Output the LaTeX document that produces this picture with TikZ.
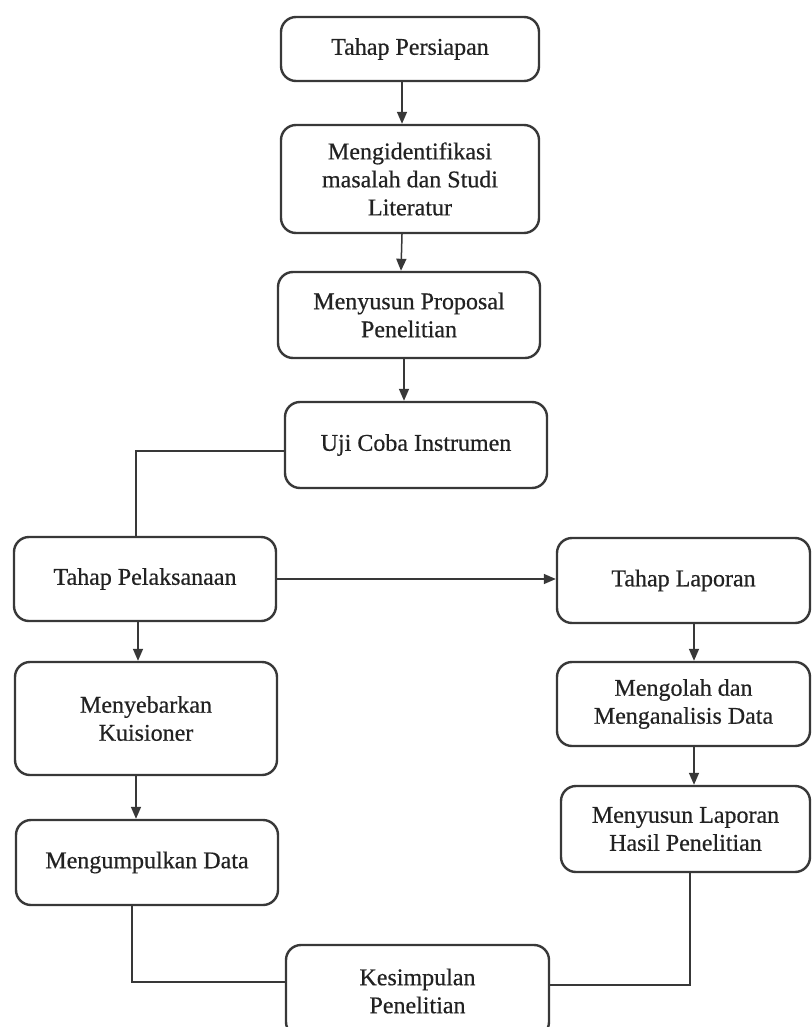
\documentclass[tikz,border=0pt]{standalone}
\usepackage{fontspec}
\setmainfont{Liberation Serif}
\newfontfamily\boxfont[FakeBold=0.5]{Liberation Serif}
\usetikzlibrary{arrows.meta}
\definecolor{ink}{HTML}{222222}
\definecolor{edge}{HTML}{383838}
\begin{document}
\begin{tikzpicture}[x=1pt,y=-1pt,
  box/.style={draw=edge, line width=2.4pt, rounded corners=15pt, align=center,
    text=ink, font=\boxfont\fontsize{24}{28}\selectfont, inner sep=2pt},
  conn/.style={draw=edge, line width=1.5pt},
  arr/.style={conn, -{Triangle[length=12pt,width=10pt]}}]
\fill[white] (0,0) rectangle (811,1027);
\useasboundingbox (0,0) rectangle (811,1027);
\node[box, minimum width=258pt, minimum height=64pt] (tp) at (410,49) {Tahap Persiapan};
\node[box, minimum width=258pt, minimum height=108pt] (mi) at (410,179) {Mengidentifikasi\\masalah dan Studi\\Literatur};
\node[box, minimum width=262pt, minimum height=86pt] (mp) at (409,315) {Menyusun Proposal\\Penelitian};
\node[box, minimum width=262pt, minimum height=86pt] (uc) at (416,445) {Uji Coba Instrumen};
\node[box, minimum width=262pt, minimum height=84pt] (tpel) at (145,579) {Tahap Pelaksanaan};
\node[box, minimum width=253pt, minimum height=85pt] (tl) at (683.5,580.5) {Tahap Laporan};
\node[box, minimum width=262pt, minimum height=113pt] (mk) at (146,718.5) {Menyebarkan\\Kuisioner};
\node[box, minimum width=253pt, minimum height=84pt] (md) at (683.5,704) {Mengolah dan\\Menganalisis Data};
\node[box, minimum width=262pt, minimum height=85pt] (mda) at (147,862.5) {Mengumpulkan Data};
\node[box, minimum width=249pt, minimum height=86pt] (ml) at (685.5,829) {Menyusun Laporan\\Hasil Penelitian};
\node[box, minimum width=263pt, minimum height=92pt] (kp) at (417.5,991) {Kesimpulan\\Penelitian};
\draw[arr] ([xshift=-8pt]tp.south) -- ([xshift=-8pt]mi.north);
\draw[arr] ([xshift=-8pt]mi.south) -- ([xshift=-8pt]mp.north);
\draw[arr] ([xshift=-5pt]mp.south) -- ([xshift=-12pt]uc.north);
\draw[conn] ([yshift=-6pt]uc.west) -| ([xshift=-9pt]tpel.north);
\draw[arr] (tpel.east) -- (tpel.east -| tl.west);
\draw[arr] ([xshift=-7pt]tpel.south) -- ([xshift=-8pt]mk.north);
\draw[arr] ([xshift=-10pt]mk.south) -- ([xshift=-11pt]mda.north);
\draw[arr] ([xshift=10.5pt]tl.south) -- ([xshift=10.5pt]md.north);
\draw[arr] ([xshift=10.5pt]md.south) -- ([xshift=8.5pt]ml.north);
\draw[conn] ([xshift=-15pt]mda.south) |- ([yshift=9pt]kp.west);
\draw[conn] ([xshift=4.5pt]ml.south) |- ([yshift=6pt]kp.east);
\end{tikzpicture}
\end{document}
